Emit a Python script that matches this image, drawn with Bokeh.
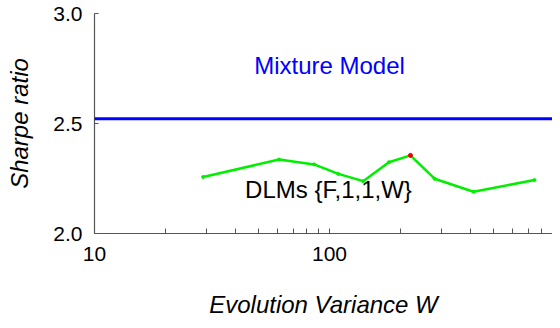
from bokeh.plotting import figure
from bokeh.models import Range1d, FixedTicker, PrintfTickFormatter, Span, Label
from bokeh.embed import file_html
from bokeh.resources import INLINE

# Data
evolution_w = [29, 61, 86, 109, 139, 179, 221, 280, 410, 745]
dlm_sharpe = [2.257, 2.336, 2.314, 2.271, 2.238, 2.324, 2.355, 2.249, 2.190, 2.243]
peak_w = [221]
peak_sharpe = [2.355]
mixture_sharpe = 2.522
x_ticks = [10, 100]
x_minor = [20, 30, 40, 50, 60, 70, 80, 90, 200, 300, 400, 500, 600, 700, 800, 900]
y_ticks = [2.0, 2.5, 3.0]

FONT = "Liberation Sans"
AXIS_GREY = "#555555"

p = figure(width=552, height=320, x_axis_type="log",
           x_range=Range1d(10, 889), y_range=Range1d(2.0, 3.0),
           output_backend="svg", toolbar_location=None,
           min_border_left=94, min_border_right=0, min_border_top=13, min_border_bottom=82)
p.outline_line_color = None
p.grid.visible = False
p.background_fill_color = "white"
p.border_fill_color = "white"

# axes
p.xaxis.ticker = FixedTicker(ticks=x_ticks, minor_ticks=x_minor)
p.xaxis.formatter = PrintfTickFormatter(format="%d")
p.yaxis.ticker = FixedTicker(ticks=y_ticks)
p.yaxis.formatter = PrintfTickFormatter(format="%.1f")
for ax in (p.xaxis[0], p.yaxis[0]):
    ax.axis_line_color = AXIS_GREY
    ax.axis_line_width = 1.2
    ax.major_tick_line_color = AXIS_GREY
    ax.minor_tick_line_color = AXIS_GREY
    ax.major_tick_out = 0
    ax.minor_tick_out = 0
    ax.major_label_text_font = FONT
    ax.major_label_text_font_size = "21px"
    ax.major_label_text_color = "black"
    ax.axis_label_text_font = FONT
    ax.axis_label_text_font_size = "24px"
    ax.axis_label_text_font_style = "italic"
    ax.axis_label_text_color = "black"
p.xaxis.major_tick_in = 5
p.xaxis.minor_tick_in = 5
p.yaxis.major_tick_in = 4
p.yaxis.minor_tick_in = 0
p.xaxis.major_label_standoff = 13
p.yaxis.major_label_standoff = 12
p.xaxis.axis_label = "Evolution Variance W"
p.yaxis.axis_label = "Sharpe ratio"
p.xaxis.axis_label_standoff = 27
p.yaxis.axis_label_standoff = 17

# mixture model reference line
p.add_layout(Span(location=mixture_sharpe, dimension="width", line_color="#0000ff", line_width=3))

# DLM curve
p.line(evolution_w, dlm_sharpe, line_color="#00ee00", line_width=2.5)
p.scatter(evolution_w, dlm_sharpe, size=3, color="#00ee00")
p.scatter(peak_w, peak_sharpe, size=4, color="#ee0000")

p.add_layout(Label(x=100, y=2.765, text="Mixture Model", text_align="center", text_baseline="middle",
                   text_font=FONT, text_font_size="24px", text_color="#0000ff"))
p.add_layout(Label(x=99, y=2.199, text="DLMs {F,1,1,W}", text_align="center", text_baseline="middle",
                   text_font=FONT, text_font_size="24px", text_color="black"))

open("out.html", "w").write(file_html(p, INLINE))
